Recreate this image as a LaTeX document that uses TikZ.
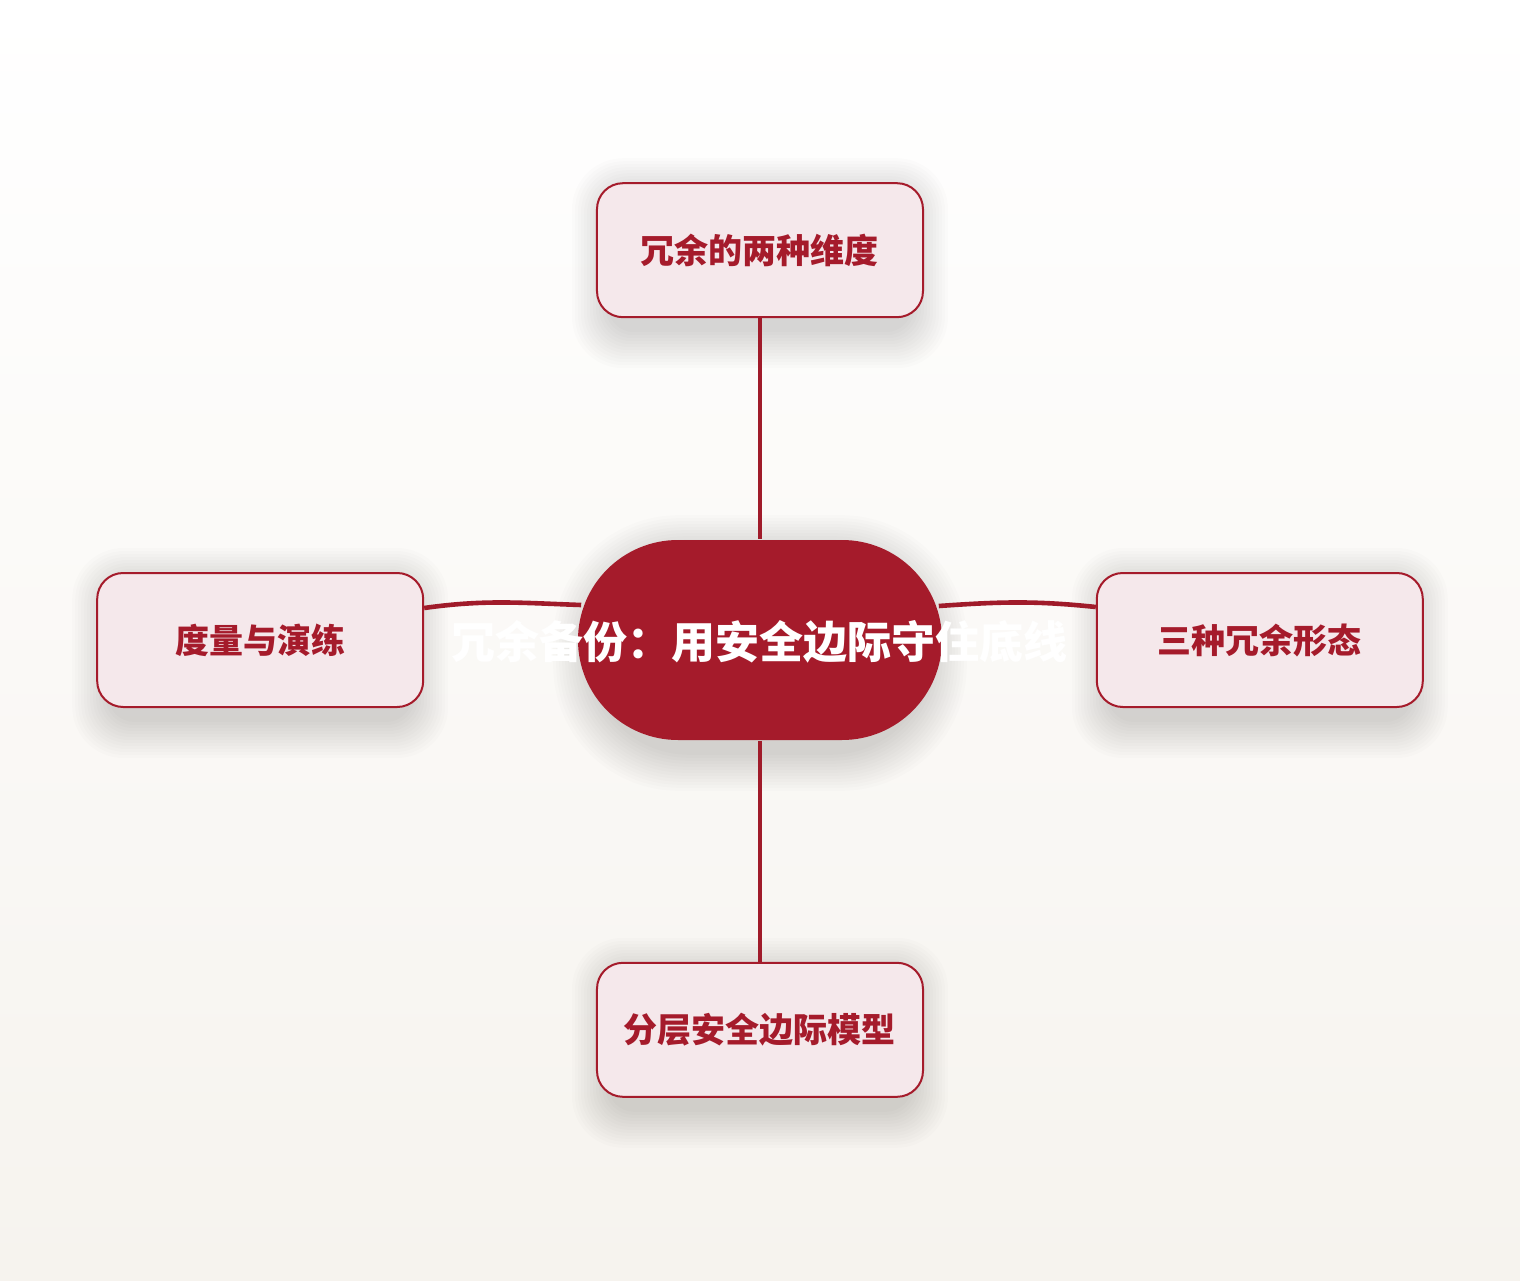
\documentclass[tikz,border=0pt]{standalone}
\usepackage{fontspec}
\setmainfont{Noto Sans CJK SC}
\usetikzlibrary{positioning}
\definecolor{crimson}{HTML}{A51B2B}
\definecolor{wire}{HTML}{A01B2A}
\definecolor{petal}{HTML}{F5E8EB}
\definecolor{paper}{HTML}{F6F3EE}
\pgfdeclarelayer{background}
\pgfdeclarelayer{shadow}
\pgfdeclarelayer{edges}
\pgfsetlayers{background,shadow,edges,main}
\tikzset{
	node distance = 110.5pt and 76.5pt,
	every path/.style={thick},
	hub/.style = {rectangle, rounded corners=50pt, fill=crimson, minimum width=182pt, minimum height=100pt, inner sep=0pt},
	hubtext/.style = {text=white, font=\fontsize{22pt}{26pt}\selectfont\bfseries, inner sep=0pt},
	topic/.style = {rectangle, rounded corners=13pt, draw=crimson, line width=1pt, fill=petal, text=crimson,
		minimum width=163pt, minimum height=67pt, font=\fontsize{17pt}{20pt}\selectfont\bfseries},
	halo/.style = {fill=black, opacity=0.01},
	link/.style = {draw=wire, line width=2.3pt}
}
% soft shadow under a node: name, corner radius
\newcommand{\softshadow}[2]{%
	\foreach \s in {0,1.5,...,18}
		\fill[halo, rounded corners=#2+\s*0.7pt]
			([xshift=-\s pt+6pt, yshift=-\s pt-7pt]#1.south west) rectangle ([xshift=\s pt-6pt, yshift=\s pt-6pt]#1.north east);
}
\begin{document}
\begin{tikzpicture}
	% Background
	\begin{pgfonlayer}{background}
		\shade[top color=white, bottom color=paper] (-380pt,-320pt) rectangle (380pt,320pt);
	\end{pgfonlayer}
	\useasboundingbox (-380pt,-320pt) rectangle (380pt,320pt);
	
	\node (hub) [hub] at (0,0) {};
	\node (title) [hubtext] at ([yshift=-1pt]hub.center) {冗余备份：用安全边际守住底线};
	
	\node (dims) [topic, above = of hub] {冗余的两种维度};
	\node (forms) [topic, right = of hub] {三种冗余形态};
	\node (layers) [topic, below = of hub] {分层安全边际模型};
	\node (drill) [topic, left = of hub] {度量与演练};
	
	% Shadows
	\begin{pgfonlayer}{shadow}
		\softshadow{hub}{50pt}
		\softshadow{dims}{13pt}
		\softshadow{forms}{13pt}
		\softshadow{layers}{13pt}
		\softshadow{drill}{13pt}
	\end{pgfonlayer}
	
	\begin{pgfonlayer}{edges}
		\path[link] (dims) -- (hub);
		\path[link] (hub) -- (layers);
		\path[link] ([yshift=16pt]drill.east) to[out=8, in=178] ([xshift=2pt,yshift=17.5pt]hub.west);
		\path[link] ([xshift=-2pt,yshift=17pt]hub.east) to[out=4, in=174] ([yshift=16.5pt]forms.west);
	\end{pgfonlayer}
\end{tikzpicture}
\end{document}
